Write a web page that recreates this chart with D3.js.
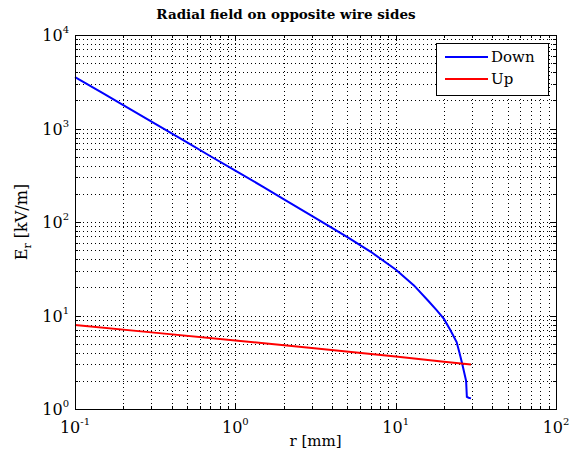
<!DOCTYPE html>
<html><head><meta charset="utf-8">
<script src="https://cdn.jsdelivr.net/npm/d3@7"></script>
<style>body{margin:0;background:#fff}svg{display:block}</style>
</head><body>
<script>
// ---- data ----
const downR = [0.1, 0.15, 0.2, 0.3, 0.5, 0.7, 1, 1.5, 2, 3, 5, 7, 10, 13, 16, 18, 20, 22, 24, 25, 26, 27, 27.5, 27.8, 28.5, 29.5];
const downE = [3550, 2370, 1780, 1185, 710, 505, 355, 236, 176, 116, 69, 48, 31, 21, 14.3, 11.4, 9.2, 6.9, 5.2, 4.0, 3.05, 2.3, 2.0, 1.35, 1.32, 1.3];
const upR = [0.1, 0.3, 1, 3, 10, 20, 29.5];
const upE = [7.9, 6.6, 5.4, 4.5, 3.65, 3.2, 3.0];
const xTickExps = [-1, 0, 1, 2];
const yTickExps = [0, 1, 2, 3, 4];
const seriesNames = ["Down", "Up"];
const seriesColors = ["#0000ff", "#ff0000"];
const titleText = "Radial field on opposite wire sides";

const W = 574, H = 461;
const m = {left: 75, right: 574 - 556, top: 35, bottom: 461 - 409};
const svg = d3.select("body").append("svg").attr("width", W).attr("height", H)
  .style("font-family", "'DejaVu Serif', serif");

const x = d3.scaleLog().domain([0.1, 100]).range([m.left, W - m.right]);
const y = d3.scaleLog().domain([1, 10000]).range([H - m.bottom, m.top]);

// minor + major tick values
const xAll = [], yAll = [];
for (let e = -1; e < 2; e++) for (let k = 1; k <= 10; k++) xAll.push(k * Math.pow(10, e));
for (let e = 0; e < 4; e++) for (let k = 1; k <= 10; k++) yAll.push(k * Math.pow(10, e));
const xs = Array.from(new Set(xAll.map(v => +v.toPrecision(6))));
const ys = Array.from(new Set(yAll.map(v => +v.toPrecision(6))));

const g = svg.append("g");
// grid (dotted)
g.selectAll(".gx").data(xs.filter(v => v > 0.1 && v < 100)).enter().append("line")
  .attr("x1", d => Math.round(x(d)) + 0.5).attr("x2", d => Math.round(x(d)) + 0.5)
  .attr("y1", m.top).attr("y2", H - m.bottom)
  .attr("stroke", "#000").attr("stroke-width", 1).attr("stroke-dasharray", "1,3");
g.selectAll(".gy").data(ys.filter(v => v > 1 && v < 10000)).enter().append("line")
  .attr("y1", d => Math.round(y(d)) + 0.5).attr("y2", d => Math.round(y(d)) + 0.5)
  .attr("x1", m.left).attr("x2", W - m.right)
  .attr("stroke", "#000").attr("stroke-width", 1).attr("stroke-dasharray", "1,3");

// tick marks on all four sides, inward
const isMajor = v => Math.abs(Math.log10(v) - Math.round(Math.log10(v))) < 1e-9;
const tk = g.append("g").attr("stroke", "#000").attr("stroke-width", 1);
xs.forEach(v => {
  const px = Math.round(x(v)) + 0.5, L = isMajor(v) ? 6 : 3;
  tk.append("line").attr("x1", px).attr("x2", px).attr("y1", H - m.bottom).attr("y2", H - m.bottom - L);
  tk.append("line").attr("x1", px).attr("x2", px).attr("y1", m.top).attr("y2", m.top + L);
});
ys.forEach(v => {
  const py = Math.round(y(v)) + 0.5, L = isMajor(v) ? 6 : 3;
  tk.append("line").attr("y1", py).attr("y2", py).attr("x1", m.left).attr("x2", m.left + L);
  tk.append("line").attr("y1", py).attr("y2", py).attr("x1", W - m.right).attr("x2", W - m.right - L);
});

// data lines
const line = d3.line().x(d => x(d[0])).y(d => y(d[1]));
const downData = downR.map((r, i) => [r, downE[i]]);
const upData = upR.map((r, i) => [r, upE[i]]);
[downData, upData].forEach((d, i) => {
  svg.append("path").datum(d).attr("d", line).attr("fill", "none")
    .attr("stroke", seriesColors[i]).attr("stroke-width", 2);
});

// box
svg.append("rect").attr("x", m.left + 0.5).attr("y", m.top + 0.5)
  .attr("width", W - m.left - m.right).attr("height", H - m.top - m.bottom)
  .attr("fill", "none").attr("stroke", "#000").attr("stroke-width", 1);

// tick labels
xTickExps.forEach(e => {
  const t = svg.append("text").attr("x", x(Math.pow(10, e))).attr("y", H - m.bottom + 24)
    .attr("text-anchor", "middle").attr("font-size", 16).attr("fill", "#000");
  t.append("tspan").text("10");
  t.append("tspan").attr("dy", -8).attr("font-size", 10).text(e);
});
yTickExps.forEach(e => {
  const t = svg.append("text").attr("x", m.left - 6).attr("y", y(Math.pow(10, e)) + 6)
    .attr("text-anchor", "end").attr("font-size", 16).attr("fill", "#000");
  t.append("tspan").text("10");
  t.append("tspan").attr("dy", -8).attr("font-size", 10).text(e);
});

// title and axis labels
svg.append("text").attr("x", 286).attr("y", 19)
  .attr("text-anchor", "middle").attr("font-size", 13.5).attr("font-weight", "bold").text(titleText);
svg.append("text").attr("x", (m.left + W - m.right) / 2).attr("y", 446)
  .attr("text-anchor", "middle").attr("font-size", 15).text("r [mm]");
const yl = svg.append("text").attr("transform", `translate(27,${(m.top + H - m.bottom) / 2}) rotate(-90)`)
  .attr("text-anchor", "middle").attr("font-size", 16);
yl.append("tspan").text("E");
yl.append("tspan").attr("dy", 4).attr("font-size", 11).text("r");
yl.append("tspan").attr("dy", -4).text(" [kV/m]");

// legend
const lg = svg.append("g");
lg.append("rect").attr("x", 436.5).attr("y", 43.5).attr("width", 112).attr("height", 52)
  .attr("fill", "#fff").attr("stroke", "#000");
seriesNames.forEach((n, i) => {
  const yy = 57 + i * 22;
  lg.append("line").attr("x1", 445).attr("x2", 488).attr("y1", yy).attr("y2", yy)
    .attr("stroke", seriesColors[i]).attr("stroke-width", 2);
  lg.append("text").attr("x", 491).attr("y", yy + 5).attr("font-size", 15).text(n);
});
</script>
</body></html>
